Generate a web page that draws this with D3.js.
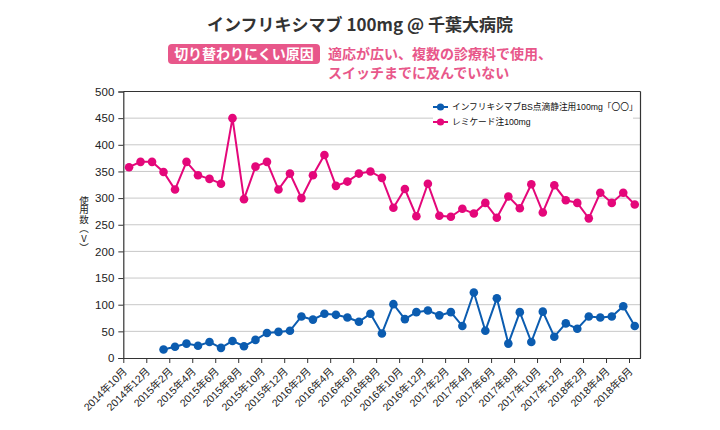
<!DOCTYPE html>
<html>
<head>
<meta charset="utf-8">
<script src="https://cdn.jsdelivr.net/npm/d3@7"></script>
<style>
  html, body { margin: 0; padding: 0; background: #fff; }
  svg { display: block; font-family: "Noto Sans CJK JP", "Noto Sans", sans-serif; }
</style>
</head>
<body>
<svg id="chart" width="720" height="430"></svg>
<script>
// ---- data ----
const months = [
  "2014年10月","2014年11月","2014年12月","2015年1月","2015年2月","2015年3月","2015年4月","2015年5月","2015年6月","2015年7月",
  "2015年8月","2015年9月","2015年10月","2015年11月","2015年12月","2016年1月","2016年2月","2016年3月","2016年4月","2016年5月",
  "2016年6月","2016年7月","2016年8月","2016年9月","2016年10月","2016年11月","2016年12月","2017年1月","2017年2月","2017年3月",
  "2017年4月","2017年5月","2017年6月","2017年7月","2017年8月","2017年9月","2017年10月","2017年11月","2017年12月","2018年1月",
  "2018年2月","2018年3月","2018年4月","2018年5月","2018年6月"
];
const remicade = [
  358, 368, 368, 349, 316, 368, 343, 336, 327, 450,
  298, 359, 368, 316, 346, 300, 343, 381, 323, 331,
  346, 350, 338, 282, 317, 266, 327, 267, 265, 280,
  271, 291, 263, 303, 281, 326, 273, 324, 296, 291,
  262, 310, 291, 310, 288
];
const biosimilar = [
  null, null, null, 16, 21, 27, 23, 30, 19, 32,
  22, 34, 47, 49, 51, 78, 72, 83, 81, 76,
  68, 83, 46, 101, 73, 86, 89, 80, 86, 60,
  123, 51, 112, 27, 86, 30, 87, 40, 65, 55,
  78, 76, 78, 97, 60
];
const yTicks = [0, 50, 100, 150, 200, 250, 300, 350, 400, 450, 500];
const seriesNames = ["インフリキシマブBS点滴静注用100mg「〇〇」", "レミケード注100mg"];
const title = "インフリキシマブ 100mg @ 千葉大病院";
const badgeText = "切り替わりにくい原因";
const noteLines = ["適応が広い、複数の診療科で使用、", "スイッチまでに及んでいない"];
const yLabel = "使用数（V）";

// ---- layout ----
const L = 123.3, R = 640.5, T = 91.5, B = 358;
const blue = "#0b5cb0", pink = "#e4077a", accent = "#e8578a";
const axisFont = "'Liberation Sans', 'Noto Sans CJK JP', sans-serif";

const svg = d3.select("#chart");

const x = d3.scaleLinear().domain([0, months.length]).range([L, R]);
const y = d3.scaleLinear().domain([0, 500]).range([B, T]);

// title
svg.append("text").attr("x", 360).attr("y", 31).attr("text-anchor", "middle")
  .attr("font-size", 17).attr("font-weight", "bold").attr("fill", "#333").text(title);

// badge
svg.append("rect").attr("x", 168).attr("y", 44).attr("width", 152).attr("height", 20)
  .attr("rx", 4).attr("fill", accent);
svg.append("text").attr("x", 244).attr("y", 59).attr("text-anchor", "middle")
  .attr("font-size", 14).attr("font-weight", "bold").attr("fill", "#fff").text(badgeText);
noteLines.forEach((t, i) => {
  svg.append("text").attr("x", 328).attr("y", 59 + i * 19)
    .attr("font-size", 14).attr("font-weight", "bold").attr("fill", accent).text(t);
});

// gridlines
svg.append("g").selectAll("line").data(yTicks.filter(v => v > 0 && v < 500)).join("line")
  .attr("x1", L).attr("x2", R).attr("y1", d => y(d)).attr("y2", d => y(d))
  .attr("stroke", "#c8c8c8").attr("stroke-width", 1);

// frame top / right
svg.append("line").attr("x1", L).attr("x2", R).attr("y1", y(500)).attr("y2", y(500))
  .attr("stroke", "#333").attr("stroke-width", 1.2);
svg.append("line").attr("x1", R).attr("x2", R).attr("y1", T).attr("y2", B)
  .attr("stroke", "#333").attr("stroke-width", 1.2);

// y axis
const yAxis = svg.append("g").attr("transform", `translate(${L},0)`)
  .call(d3.axisLeft(y).tickValues(yTicks).tickSize(5).tickPadding(4));
yAxis.select(".domain").attr("stroke", "#333").attr("stroke-width", 1.2);
yAxis.selectAll(".tick line").attr("stroke", "#333");
yAxis.selectAll("text").attr("font-size", 11.5).attr("fill", "#222")
  .attr("font-family", axisFont);

// x axis
const tickIdx = d3.range(0, months.length, 2);
const xAxis = svg.append("g").attr("transform", `translate(0,${B})`)
  .call(d3.axisBottom(x).tickValues(tickIdx).tickFormat(i => months[i]).tickSize(5).tickSizeOuter(0));
xAxis.select(".domain").attr("stroke", "#333").attr("stroke-width", 1.2);
xAxis.selectAll(".tick line").attr("stroke", "#333");
xAxis.selectAll("text")
  .attr("font-size", 10.5).attr("fill", "#222")
  .attr("font-family", axisFont)
  .attr("text-anchor", "end")
  .attr("dy", null).attr("y", 0)
  .attr("transform", "translate(2,12) rotate(-45)")
  .attr("dominant-baseline", "middle");

// y label (vertical writing)
svg.append("text").attr("x", 84).attr("y", 224)
  .attr("text-anchor", "middle")
  .style("writing-mode", "vertical-rl").style("text-orientation", "upright")
  .attr("font-size", 9.5).attr("fill", "#222").text(yLabel);

// series
const cx = i => x(i + 0.5);
function drawSeries(data, color) {
  const line = d3.line().defined(d => d != null).x((d, i) => cx(i)).y(d => y(d));
  svg.append("path").datum(data).attr("d", line).attr("fill", "none")
    .attr("stroke", color).attr("stroke-width", 2);
  svg.append("g").selectAll("circle")
    .data(data.map((v, i) => ({ v, i })).filter(d => d.v != null))
    .join("circle").attr("cx", d => cx(d.i)).attr("cy", d => y(d.v)).attr("r", 4.3).attr("fill", color);
}
drawSeries(remicade, pink);
drawSeries(biosimilar, blue);

// legend
const lg = svg.append("g");
lg.append("rect").attr("x", 433).attr("y", 99).attr("width", 200).attr("height", 30).attr("fill", "#fff");
[[blue, seriesNames[0], 107], [pink, seriesNames[1], 122]].forEach(([c, name, ly]) => {
  lg.append("line").attr("x1", 433).attr("x2", 448).attr("y1", ly).attr("y2", ly)
    .attr("stroke", c).attr("stroke-width", 2);
  lg.append("circle").attr("cx", 440.5).attr("cy", ly).attr("r", 3.6).attr("fill", c);
  lg.append("text").attr("x", 452).attr("y", ly).attr("dominant-baseline", "central")
    .attr("font-size", 8.7).attr("font-family", axisFont).attr("fill", "#111").text(name);
});
</script>
</body>
</html>
